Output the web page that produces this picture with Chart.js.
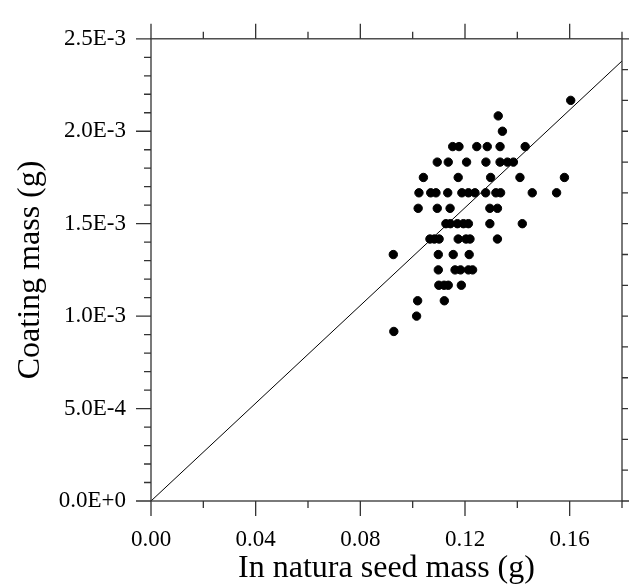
<!DOCTYPE html>
<html>
<head>
<meta charset="utf-8">
<script src="https://cdn.jsdelivr.net/npm/chart.js@4"></script>
<style>
  html, body { margin: 0; padding: 0; background: #fff; }
  #wrap { width: 629px; height: 586px; }
</style>
</head>
<body>
<div id="wrap"><canvas id="chart"></canvas></div>
<script>
// seed mass (g) and coating mass (g)
const seedMass = [
  0.0928,
  0.1015,
  0.1019, 0.1121,
  0.1100, 0.1120, 0.1136, 0.1186,
  0.1098, 0.1162, 0.1183, 0.1213, 0.1229,
  0.0926, 0.1098, 0.1155, 0.1216,
  0.1066, 0.1083, 0.1101, 0.1174, 0.1204, 0.1219, 0.1324,
  0.1127, 0.1144, 0.1171, 0.1194, 0.1213, 0.1295, 0.1419,
  0.1021, 0.1094, 0.1143, 0.1295, 0.1324,
  0.1024, 0.1069, 0.1089, 0.1134, 0.1188, 0.1213, 0.1238, 0.1279, 0.1318, 0.1336, 0.1457, 0.1550,
  0.1041, 0.1174, 0.1298, 0.1410, 0.1580,
  0.1094, 0.1136, 0.1206, 0.1280, 0.1334, 0.1362, 0.1385,
  0.1153, 0.1177, 0.1245, 0.1285, 0.1334, 0.1430,
  0.1343,
  0.1327,
  0.1604
];
const coatingMass = [
  0.000917,
  0.001000,
  0.001083, 0.001083,
  0.001167, 0.001167, 0.001167, 0.001167,
  0.001250, 0.001250, 0.001250, 0.001250, 0.001250,
  0.001333, 0.001333, 0.001333, 0.001333,
  0.001417, 0.001417, 0.001417, 0.001417, 0.001417, 0.001417, 0.001417,
  0.001500, 0.001500, 0.001500, 0.001500, 0.001500, 0.001500, 0.001500,
  0.001583, 0.001583, 0.001583, 0.001583, 0.001583,
  0.001667, 0.001667, 0.001667, 0.001667, 0.001667, 0.001667, 0.001667, 0.001667, 0.001667, 0.001667, 0.001667, 0.001667,
  0.001750, 0.001750, 0.001750, 0.001750, 0.001750,
  0.001833, 0.001833, 0.001833, 0.001833, 0.001833, 0.001833, 0.001833,
  0.001917, 0.001917, 0.001917, 0.001917, 0.001917, 0.001917,
  0.002000,
  0.002083,
  0.002167
];

// line through the origin
const lineX = [0, 0.18];
const lineY = [0, 0.00238];

const xTickValues = [0, 0.04, 0.08, 0.12, 0.16];
const xTickLabels = ['0.00', '0.04', '0.08', '0.12', '0.16'];
const yTickValues = [0, 0.0005, 0.001, 0.0015, 0.002, 0.0025];
const yTickLabels = ['0.0E+0', '5.0E-4', '1.0E-3', '1.5E-3', '2.0E-3', '2.5E-3'];

const FONT = "'Liberation Serif', 'Times New Roman', serif";

// frame + outward tick marks, placed with the chart's own scales
const frameTicks = {
  id: 'frameTicks',
  afterDatasetsDraw(chart) {
    const {ctx, chartArea: a, scales: {x, y}} = chart;
    const majorLen = 15, minorLen = 7, rightLen = 6;
    ctx.save();
    ctx.strokeStyle = '#333';
    ctx.lineWidth = 1.3;
    ctx.strokeRect(a.left, a.top, a.right - a.left, a.bottom - a.top);
    ctx.beginPath();
    // bottom and top
    for (let i = 0; i <= 9; i++) {
      const px = x.getPixelForValue(i * 0.02);
      const len = i % 2 === 0 ? majorLen : minorLen;
      ctx.moveTo(px, a.bottom); ctx.lineTo(px, a.bottom + len);
      ctx.moveTo(px, a.top); ctx.lineTo(px, a.top - len);
    }
    // left
    for (let i = 0; i <= 25; i++) {
      const py = y.getPixelForValue(i * 0.0001);
      const len = i % 5 === 0 ? majorLen : minorLen;
      ctx.moveTo(a.left, py); ctx.lineTo(a.left - len, py);
    }
    // right
    for (let i = 0; i <= 15; i++) {
      const py = y.getPixelForValue(i * 0.0025 / 15);
      const len = (i === 0 || i === 15) ? 7 : rightLen;
      ctx.moveTo(a.right, py); ctx.lineTo(a.right + len, py);
    }
    ctx.stroke();
    ctx.restore();
  }
};

const ctx = document.getElementById('chart').getContext('2d');
new Chart(ctx, {
  data: {
    datasets: [
      {
        type: 'scatter',
        data: seedMass.map((v, i) => ({x: v, y: coatingMass[i]})),
        backgroundColor: '#000',
        borderColor: '#000',
        pointRadius: 4.2,
        pointHoverRadius: 4.2
      },
      {
        type: 'line',
        data: lineX.map((v, i) => ({x: v, y: lineY[i]})),
        borderColor: '#000',
        borderWidth: 1,
        pointRadius: 0,
        fill: false
      }
    ]
  },
  plugins: [frameTicks],
  options: {
    responsive: true,
    maintainAspectRatio: false,
    animation: false,
    layout: { padding: { top: 31, right: 7, left: 0, bottom: 0 } },
    plugins: { legend: { display: false }, tooltip: { enabled: false } },
    scales: {
      x: {
        type: 'linear',
        min: 0,
        max: 0.18,
        grid: { display: false, drawTicks: false },
        border: { display: false },
        afterBuildTicks: s => { s.ticks = xTickValues.map(v => ({value: v})); },
        afterFit: s => { s.height = 85; },
        ticks: {
          padding: 25,
          color: '#000',
          font: { family: FONT, size: 23 },
          maxRotation: 0,
          callback: (v) => xTickLabels[xTickValues.indexOf(v)]
        },
        title: {
          display: true,
          text: 'In natura seed mass (g)',
          color: '#000',
          font: { family: FONT, size: 32 },
          padding: { top: 0, bottom: -2 }
        }
      },
      y: {
        type: 'linear',
        min: 0,
        max: 0.0025,
        grid: { display: false, drawTicks: false },
        border: { display: false },
        afterBuildTicks: s => { s.ticks = yTickValues.map(v => ({value: v})); },
        afterFit: s => { s.width = 151; },
        ticks: {
          padding: 25,
          color: '#000',
          font: { family: FONT, size: 23 },
          callback: (v) => yTickLabels[yTickValues.indexOf(v)]
        },
        title: {
          display: true,
          text: 'Coating mass (g)',
          color: '#000',
          font: { family: FONT, size: 32 },
          padding: { top: 11, bottom: 0 }
        }
      }
    }
  }
});
</script>
</body>
</html>
